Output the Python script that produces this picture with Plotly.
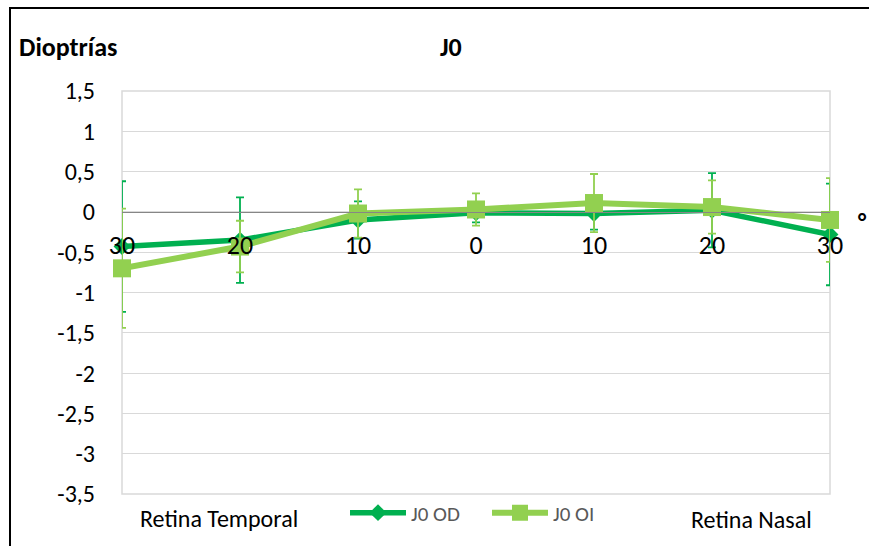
import plotly.graph_objects as go

# ---- data ----
categories = ["30", "20", "10", "0", "10", "20", "30"]
od_mean = [-0.43, -0.35, -0.10, -0.01, -0.02, 0.02, -0.28]
od_err = [0.81, 0.53, 0.23, 0.12, 0.20, 0.46, 0.63]
oi_mean = [-0.70, -0.43, -0.02, 0.03, 0.11, 0.06, -0.10]
oi_err = [0.74, 0.32, 0.30, 0.20, 0.36, 0.33, 0.52]
y_tickvals = [1.5, 1, 0.5, 0, -0.5, -1, -1.5, -2, -2.5, -3, -3.5]
y_ticktext = ["1,5", "1", "0,5", "0", "-0,5", "-1", "-1,5", "-2", "-2,5", "-3", "-3,5"]
y_range = [-3.5, 1.5]

FONT = "Carlito, Calibri, Lato, sans-serif"
W, H = 869, 546
# plot area in reference pixels: x 122..830, y 91..494
L, T = 122, 91
R = W - 830
B = H - 494
pw, ph = W - L - R, H - T - B

def px(x):
    return (x - L) / pw

def py(y):
    return (H - B - y) / ph

x_pos = list(range(len(categories)))

fig = go.Figure()
fig.add_trace(go.Scatter(
    x=x_pos, y=od_mean, name="J0 OD", mode="lines+markers", legend="legend",
    line=dict(color="#00b050", width=5.5),
    marker=dict(symbol="diamond", size=13, color="#00b050"),
    error_y=dict(type="data", array=od_err, visible=True, color="#00b050", thickness=1.8, width=4),
    cliponaxis=False,
))
fig.add_trace(go.Scatter(
    x=x_pos, y=oi_mean, name="J0 OI", mode="lines+markers", legend="legend2",
    line=dict(color="#92d050", width=6),
    marker=dict(symbol="square", size=18, color="#92d050"),
    error_y=dict(type="data", array=oi_err, visible=True, color="#92d050", thickness=1.8, width=4),
    cliponaxis=False,
))

zero_pos = (0 - y_range[0]) / (y_range[1] - y_range[0])
legend_common = dict(orientation="h", yanchor="middle", y=py(513), xanchor="left",
                     font=dict(family=FONT, size=21, color="#595959"),
                     bgcolor="rgba(0,0,0,0)", itemwidth=56)

fig.update_layout(
    width=W, height=H,
    margin=dict(l=L, r=R, t=T, b=B, pad=0, autoexpand=False),
    paper_bgcolor="white", plot_bgcolor="white",
    font=dict(family=FONT, size=22, color="black"),
    showlegend=True,
    legend=dict(x=px(345), **legend_common),
    legend2=dict(x=px(487), **legend_common),
    xaxis=dict(range=[0, 6], tickvals=x_pos, ticktext=categories, showgrid=False,
               zeroline=False, showline=True, linecolor="#868686", linewidth=1,
               anchor="free", position=zero_pos, side="bottom", ticks="",
               ticklabelstandoff=10,
               tickfont=dict(family=FONT, size=26, color="black")),
    yaxis=dict(range=y_range, tickvals=y_tickvals, ticktext=y_ticktext, showgrid=True,
               gridcolor="#d9d9d9", gridwidth=1, zeroline=False, showline=False, ticks="",
               ticklabelstandoff=26,
               tickfont=dict(family=FONT, size=24, color="black")),
    shapes=[
        dict(type="rect", xref="paper", yref="paper", x0=0, x1=1, y0=0, y1=1,
             line=dict(color="#d9d9d9", width=1.5), layer="below"),
        dict(type="line", xref="paper", yref="paper", x0=px(9), x1=px(880), y0=py(8), y1=py(8),
             line=dict(color="black", width=2)),
        dict(type="line", xref="paper", yref="paper", x0=px(10), x1=px(10), y0=py(8), y1=py(560),
             line=dict(color="black", width=2)),
    ],
    annotations=[
        dict(text="<b>Dioptrías</b>", xref="paper", yref="paper", x=px(17), y=py(47),
             xanchor="left", yanchor="middle", showarrow=False, font=dict(family=FONT, size=26)),
        dict(text="<b>J0</b>", xref="paper", yref="paper", x=px(451), y=py(47),
             xanchor="center", yanchor="middle", showarrow=False, font=dict(family=FONT, size=26)),
        dict(text="Retina Temporal", xref="paper", yref="paper", x=px(219), y=py(518),
             xanchor="center", yanchor="middle", showarrow=False, font=dict(family=FONT, size=24)),
        dict(text="Retina Nasal", xref="paper", yref="paper", x=px(751), y=py(519),
             xanchor="center", yanchor="middle", showarrow=False, font=dict(family=FONT, size=24)),
        dict(text="<b>°</b>", xref="paper", yref="paper", x=px(862), y=py(222),
             xanchor="center", yanchor="middle", showarrow=False, font=dict(family=FONT, size=24)),
    ],
)

fig.write_html(
    "out.html",
    config={"displayModeBar": False},
    post_script="document.body.style.margin='0';document.body.style.overflow='hidden';",
)
